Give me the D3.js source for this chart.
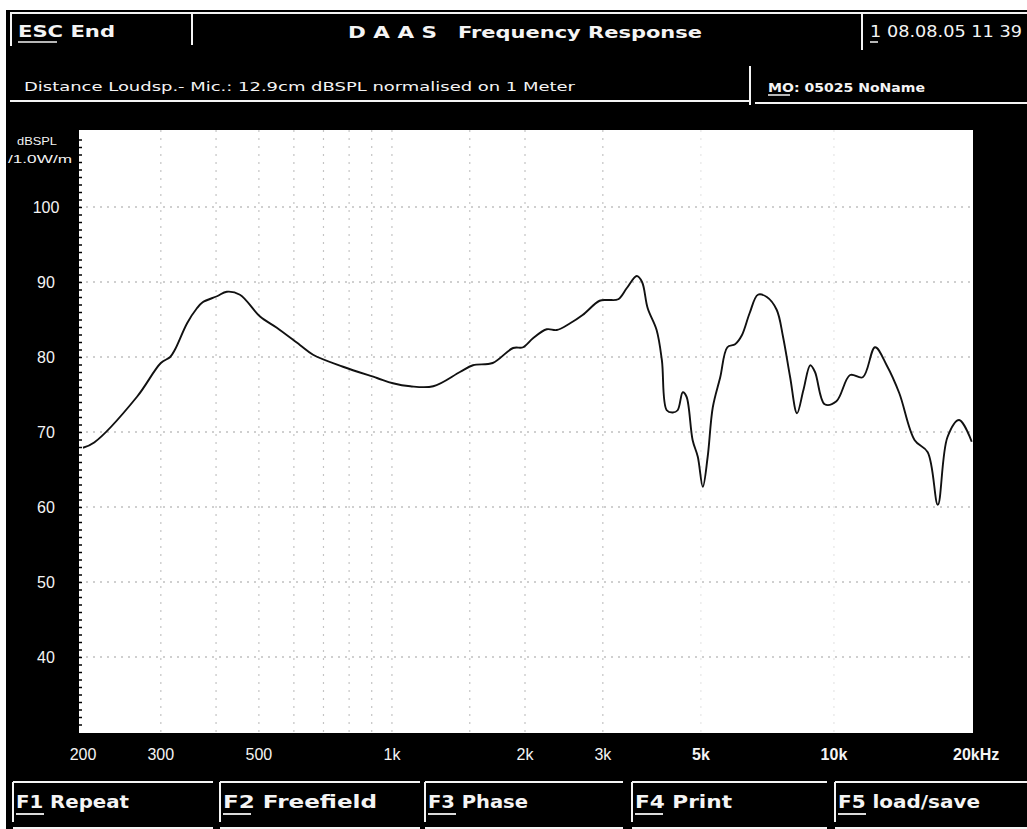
<!DOCTYPE html>
<html>
<head>
<meta charset="utf-8">
<script src="https://cdn.jsdelivr.net/npm/d3@7"></script>
<style>
  html, body { margin: 0; padding: 0; background: #fff; }
  svg { display: block; }
</style>
</head>
<body>
<div id="chart"></div>
<script>
// DAAS frequency response screen, redrawn with D3

const freqs = [200, 212, 265, 300, 315, 323, 344, 362, 373, 402, 423, 453, 503, 549, 619, 663, 775, 925,
  1005, 1100, 1240, 1425, 1525, 1690, 1880, 1980, 2085, 2240, 2360, 2530, 2700, 2950, 3080, 3250, 3400,
  3580, 3680, 3790, 3970, 4080, 4185, 4320, 4430, 4550, 4640, 4790, 4920, 5050, 5180, 5320, 5530, 5740,
  5975, 6190, 6450, 6730, 7050, 7420, 7670, 7960, 8250, 8530, 8840, 9060, 9530, 10130, 10880, 11620,
  12390, 13160, 14050, 15230, 16300, 17180, 18060, 19200, 20500]
const levels = [67.9, 68.6, 74.7, 79.2, 80.0, 81.0, 84.5, 86.5, 87.3, 88.1, 88.7, 88.3, 85.4, 83.9, 81.6, 80.3, 78.7, 77.2,
  76.5, 76.1, 76.1, 78.0, 78.9, 79.2, 81.2, 81.3, 82.5, 83.7, 83.6, 84.5, 85.6, 87.5, 87.6, 87.7, 89.2,
  90.8, 90.0, 86.5, 83.6, 79.6, 72.9, 72.6, 72.9, 75.3, 74.7, 68.9, 66.7, 62.7, 66.7, 73.3, 77.3, 81.3,
  81.7, 82.9, 85.9, 88.3, 88.0, 86.3, 82.7, 77.3, 72.5, 75.6, 78.9, 78.0, 73.7, 74.1, 77.6, 77.3,
  81.3, 78.9, 75.2, 68.9, 67.3, 60.3, 69.3, 71.6, 68.7]

// axis ticks
const xTickValues = [200, 300, 500, 1000, 2000, 3000, 5000, 10000, 20000]
const xTickLabels = ["200", "300", "500", "1k", "2k", "3k", "5k", "10k", "20kHz"]
const xGridValues = [300, 400, 500, 600, 700, 800, 900, 1000, 1500, 2000, 3000, 5000, 10000]
const yTickValues = [40, 50, 60, 70, 80, 90, 100]

// screen texts
const headerLeft = "ESC End"
const headerTitleA = "D A A S"
const headerTitleB = "Frequency Response"
const headerDate = "1 08.08.05 11 39"
const infoLine = "Distance Loudsp.- Mic.: 12.9cm dBSPL normalised on 1 Meter"
const infoRight = "MO: 05025 NoName"
const fKeys = ["F1 Repeat", "F2 Freefield", "F3 Phase", "F4 Print", "F5 load/save"]

const W = 1027, H = 829
const plot = { left: 79, right: 973, top: 130, bottom: 733 }

const svg = d3.select("#chart").append("svg")
  .attr("width", W)
  .attr("height", H)

// screen background
svg.append("rect").attr("x", 6).attr("y", 10).attr("width", W - 6).attr("height", H - 10).attr("fill", "#000")

const white = "#f4f4f4"
const bold = "'DejaVu Sans', sans-serif"

function hline(x1, x2, y, w = 2) {
  svg.append("line").attr("x1", x1).attr("x2", x2).attr("y1", y).attr("y2", y)
    .attr("stroke", white).attr("stroke-width", w)
}
function vline(x, y1, y2, w = 2) {
  svg.append("line").attr("x1", x).attr("x2", x).attr("y1", y1).attr("y2", y2)
    .attr("stroke", white).attr("stroke-width", w)
}
function label(txt, x, y, size, weight, len, family = bold) {
  const t = svg.append("text")
    .attr("x", x).attr("y", y)
    .attr("fill", white)
    .style("font-family", family)
    .style("font-size", size + "px")
    .style("font-weight", weight)
    .text(txt)
  if (len) t.attr("textLength", len).attr("lengthAdjust", "spacingAndGlyphs")
  return t
}

// header frame
hline(10, 1027, 13)
vline(11, 13, 46)
vline(192, 13, 45)
vline(862, 13, 50)
hline(10, 750, 101)
hline(755, 1027, 103)
vline(750, 66, 105)

label(headerLeft, 18, 37, 16, 700, 97)
hline(18, 57, 42, 1.5)
label(headerTitleA, 348, 38, 16, 700, 89)
label(headerTitleB, 458, 38, 16, 700, 244)
label(headerDate, 870, 37, 15, 400, 152)
hline(870, 878, 42, 1.5)
label(infoLine, 24, 91, 13, 400, 551)
label(infoRight, 768, 92, 13, 700, 157)
hline(768, 790, 95, 1.5)

// plot area
svg.append("rect")
  .attr("x", plot.left).attr("y", plot.top)
  .attr("width", plot.right - plot.left).attr("height", plot.bottom - plot.top)
  .attr("fill", "#fff")

const x = d3.scaleLog().domain([200, 20000]).range([83, 967])
const y = d3.scaleLinear().domain([30, 110]).range([732, 132])

svg.append("defs").append("clipPath").attr("id", "plot-clip")
  .append("rect")
  .attr("x", plot.left).attr("y", plot.top)
  .attr("width", plot.right - plot.left).attr("height", plot.bottom - plot.top)

// grid: printout fades towards the right
const grid = svg.append("g").attr("clip-path", "url(#plot-clip)")
grid.selectAll(".hgrid").data(yTickValues).join("line")
  .attr("class", "hgrid")
  .attr("x1", plot.left).attr("x2", plot.right)
  .attr("y1", d => y(d)).attr("y2", d => y(d))
  .attr("stroke", "#a0a0a0").attr("stroke-width", 1.2)
  .attr("stroke-dasharray", "2,5")
grid.selectAll(".vgrid").data(xGridValues).join("line")
  .attr("class", "vgrid")
  .attr("x1", d => x(d)).attr("x2", d => x(d))
  .attr("y1", plot.top).attr("y2", plot.bottom)
  .attr("stroke", d => d > 3000 ? "#e6e6e6" : "#c4c4c4").attr("stroke-width", 1.2)
  .attr("stroke-dasharray", "2,6")

// ragged edge ticks on the left of the plot
svg.append("g")
  .attr("transform", `translate(${plot.left},0)`)
  .call(d3.axisLeft(y).tickValues(d3.range(31, 110, 1)).tickSize(-3).tickFormat(""))
  .call(g => g.select(".domain").remove())
  .call(g => g.selectAll("line").attr("stroke", "#000").attr("stroke-width", 1.5))

// y labels
svg.append("g")
  .selectAll("text").data(yTickValues).join("text")
  .attr("x", 46).attr("y", d => y(d))
  .attr("dy", "0.36em")
  .attr("text-anchor", "middle")
  .attr("fill", white)
  .style("font-family", "'Liberation Sans', sans-serif")
  .style("font-size", "16px")
  .text(d => d)

label("dBSPL", 17, 145, 11, 400, 40, "'Liberation Sans', sans-serif")
label("/1.0W/m", 8, 163, 11, 400, 64, "'Liberation Sans', sans-serif")

// x labels
svg.append("g")
  .selectAll("text").data(xTickValues).join("text")
  .attr("x", (d, i) => i === xTickValues.length - 1 ? x(d) - 14 : x(d))
  .attr("y", 760)
  .attr("text-anchor", (d, i) => i === xTickValues.length - 1 ? "start" : "middle")
  .attr("fill", white)
  .style("font-family", "'Liberation Sans', sans-serif")
  .style("font-size", "16px")
  .style("font-weight", (d, i) => i >= 6 ? 700 : 400)
  .text((d, i) => xTickLabels[i])

// response curve
const pts = freqs.map((f, i) => ({ f, v: levels[i] }))
const line = d3.line()
  .x(d => x(d.f))
  .y(d => y(d.v))
  .curve(d3.curveCatmullRom.alpha(0.5))

svg.append("path")
  .datum(pts)
  .attr("clip-path", "url(#plot-clip)")
  .attr("fill", "none")
  .attr("stroke", "#111")
  .attr("stroke-width", 1.9)
  .attr("d", line)

// function key bar
const keyBoxes = [[13, 213], [220, 420], [425, 623], [632, 827], [835, 1027]]
const keyLens = [113, 154, 100, 97, 142]
keyBoxes.forEach(([x0, x1], i) => {
  hline(x0, x1, 782)
  hline(x0, x1, 828)
  vline(x0, 782, 822)
  label(fKeys[i], x0 + 3, 808, 18, 700, keyLens[i])
  hline(x0 + 3, x0 + 31, 814, 1.8)
})
</script>
</body>
</html>
